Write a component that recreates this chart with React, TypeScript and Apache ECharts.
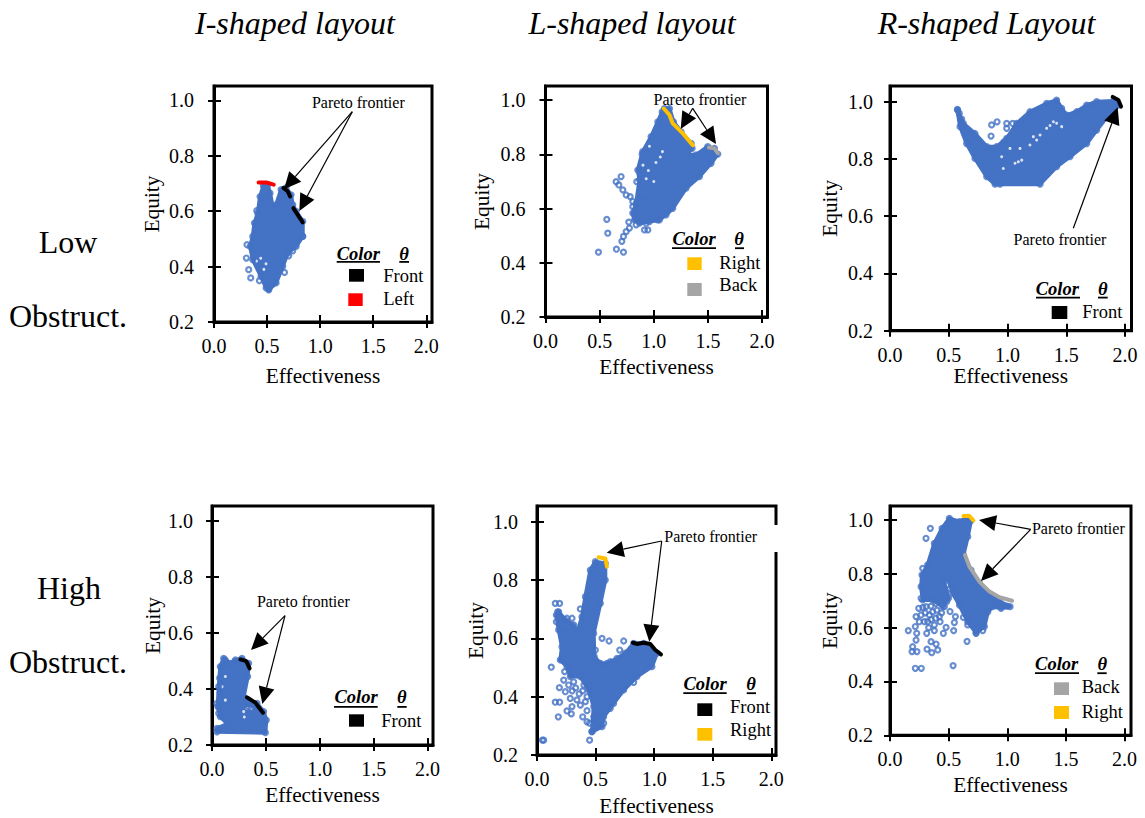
import React, { useEffect, useRef } from "react";
import * as echarts from "echarts";

const xTicks = [0, 0.5, 1, 1.5, 2];
const yTicks = [0.2, 0.4, 0.6, 0.8, 1];
const columnTitles = ["I-shaped layout", "L-shaped layout", "R-shaped Layout"];
const BLUE = "#4472C4";
const FRONT = "#000000";
const LEFT = "#FF0000";
const RIGHT = "#FFC000";
const BACK = "#A5A5A5";
const SERIF = "Liberation Serif";

type P = number[];

// ---- I-shaped, low obstruction
const lowICloud: P[] = [[.516,.316],[.585,.341],[.648,.401],[.695,.449],[.774,.473],[.836,.509],[.836,.563],[.774,.599],[.742,.623],[.726,.659],[.679,.684],[.632,.678],[.585,.623],[.553,.617],[.528,.665],[.506,.696],[.465,.692],[.434,.653],[.412,.593],[.381,.557],[.365,.509],[.340,.473],[.365,.425],[.443,.365],[.491,.323]];
const lowIPoints: P[] = [[.311,.479],[.305,.431],[.327,.389],[.346,.359],[.428,.349],[.664,.379],[.704,.439],[.742,.457],[.403,.602],[.516,.319],[.836,.509]];
const lowIHoles: P[] = [[.44,.43],[.49,.41],[.40,.42],[.47,.39]];
const lowIFrontA: P[] = [[.654,.684],[.695,.672],[.717,.653]];
const lowIFrontB: P[] = [[.748,.611],[.789,.587],[.836,.560]];
const lowILeft: P[] = [[.42,.704],[.491,.704],[.563,.696]];

// ---- L-shaped, low obstruction
const lowLCloud: P[] = [[1.098,.969],[1.145,.969],[1.182,.920],[1.252,.883],[1.345,.840],[1.354,.822],[1.298,.798],[1.391,.798],[1.498,.828],[1.560,.822],[1.591,.801],[1.529,.767],[1.422,.718],[1.298,.675],[1.175,.601],[1.114,.577],[1.052,.558],[.96,.552],[.868,.546],[.822,.558],[.806,.583],[.837,.620],[.868,.706],[.852,.742],[.898,.810],[.975,.865],[1.037,.920],[1.077,.957]];
const lowLPoints: P[] = [[.489,.439],[.655,.450],[.72,.439],[.566,.560],[.575,.509],[.652,.699],[.698,.718],[.677,.687],[.714,.669],[.745,.650],[.782,.644],[.806,.626],[.806,.607],[.705,.479],[.72,.497],[.745,.515],[.769,.550],[.775,.528],[.837,.540],[.843,.699],[.892,.801],[.923,.634],[.914,.521],[.945,.521],[.929,.546],[1.037,.558],[.852,.571]];
const lowLHoles: P[] = [[1.06,.79],[1.08,.81],[1.02,.77],[.95,.74],[.93,.71],[1.0,.70],[.96,.83],[.90,.76]];
const lowLRight: P[] = [[1.092,.969],[1.145,.945],[1.175,.914],[1.268,.877],[1.36,.834]];
const lowLBack: P[] = [[1.508,.825],[1.56,.822],[1.591,.804]];

// ---- R-shaped, low obstruction
const lowRCloud: P[] = [[.573,.973],[.624,.924],[.723,.889],[.823,.843],[.908,.843],[.993,.872],[1.078,.924],[1.191,.965],[1.333,.994],[1.418,1.006],[1.461,.977],[1.504,.953],[1.589,.965],[1.674,.988],[1.759,1.0],[1.901,1.003],[1.943,.988],[1.858,.953],[1.759,.901],[1.674,.854],[1.532,.808],[1.418,.773],[1.277,.712],[.936,.712],[.894,.712],[.823,.738],[.723,.802],[.652,.854],[.596,.913]];
const lowRPoints: P[] = [[.576,.971],[.59,.959],[.61,.939],[.865,.919],[.911,.93],[.86,.88],[.97,.86],[.993,.924],[.993,.907],[1.044,.924],[1.532,.942],[1.603,.963]];
const lowRHoles: P[] = [[1.39,.93],[1.418,.925],[1.362,.917],[1.248,.866],[1.22,.878],[1.277,.884],[1.092,.79],[1.064,.785],[1.121,.796],[.95,.808],[1.021,.837],[1.106,.837],[1.333,.907],[1.461,.913],[.964,.767],[1.191,.849]];
const lowRFront: P[] = [[1.895,1.017],[1.943,1.006],[1.966,.983]];

// ---- I-shaped, high obstruction
const highICloud: P[] = [[.046,.247],[.495,.244],[.504,.289],[.479,.319],[.417,.348],[.34,.360],[.294,.372],[.331,.444],[.34,.491],[.278,.509],[.216,.503],[.17,.491],[.108,.509],[.077,.479],[.062,.408],[.053,.337],[.077,.301],[.145,.275],[.046,.259]];
const highIPoints: P[] = [[.046,.348],[.071,.438],[.124,.503],[.077,.384],[.062,.313],[.34,.336]];
const highIHoles: P[] = [[.294,.319],[.325,.33],[.124,.444],[.093,.408],[.124,.36],[.30,.30],[.36,.33]];
const highIFrontA: P[] = [[.263,.505],[.318,.499],[.349,.473]];
const highIFrontB: P[] = [[.325,.370],[.402,.351],[.473,.315]];

// ---- L-shaped, high obstruction
const highLCloud: P[] = [[.498,.863],[.583,.857],[.583,.8],[.541,.72],[.484,.617],[.489,.537],[.541,.514],[.597,.514],[.683,.531],[.754,.549],[.825,.583],[.91,.583],[1.024,.549],[.981,.503],[.853,.469],[.74,.423],[.654,.377],[.569,.331],[.555,.297],[.469,.28],[.484,.366],[.441,.423],[.37,.469],[.284,.469],[.256,.503],[.199,.526],[.213,.571],[.185,.629],[.165,.68],[.185,.691],[.242,.663],[.313,.646],[.341,.617],[.384,.674],[.413,.743],[.455,.834]];
const highLPoints: P[] = [[.057,.251],[.046,.251],[.122,.501],[.156,.72],[.193,.72],[.176,.691],[.165,.657],[.299,.669],[.37,.701],[.191,.431],[.156,.381],[.193,.381],[.182,.331],[.256,.351],[.293,.341],[.284,.394],[.299,.366],[.341,.389],[.37,.371],[.413,.383],[.427,.352],[.39,.331],[.427,.314],[.449,.309],[.449,.251],[.469,.28],[.569,.309],[.555,.6],[.615,.591],[.74,.591],[.706,.56],[.498,.56],[.526,.514],[.242,.417],[.313,.451],[.427,.4],[.213,.669],[.256,.669],[.228,.623],[.284,.606],[.213,.526],[.236,.486],[.512,.343],[.228,.457],[.484,.331],[.626,.36],[.825,.449],[.74,.429],[.626,.52],[.27,.44],[.30,.42],[.33,.43],[.36,.41],[.39,.42],[.40,.44]];
const highLFront: P[] = [[.819,.585],[.853,.581],[.91,.585],[.967,.581],[1.01,.56],[1.058,.545]];
const highLRight: P[] = [[.526,.878],[.583,.874],[.597,.846]];

// ---- R-shaped, high obstruction
const highRCloud: P[] = [[.506,1.006],[.592,.994],[.663,1.01],[.691,.998],[.663,.938],[.626,.87],[.691,.814],[.762,.765],[.848,.725],[.933,.697],[1.024,.678],[.947,.672],[.876,.678],[.834,.659],[.805,.604],[.734,.581],[.663,.622],[.592,.684],[.535,.728],[.492,.783],[.47,.80],[.46,.77],[.50,.71],[.45,.678],[.364,.703],[.279,.703],[.265,.752],[.273,.796],[.321,.833],[.378,.913],[.444,.969]];
const highRPoints: P[] = [[.156,.589],[.228,.579],[.188,.511],[.23,.511],[.216,.449],[.267,.449],[.193,.529],[.222,.554],[.316,.52],[.356,.507],[.393,.539],[.407,.517],[.35,.548],[.313,.579],[.378,.61],[.378,.589],[.427,.622],[.455,.579],[.478,.601],[.558,.641],[.549,.619],[.543,.589],[.538,.459],[.657,.549],[.626,.638],[.663,.61],[.734,.579],[.791,.589],[.344,.969],[.307,.932],[.279,.82],[.265,.709],[.245,.672],[.222,.641],[.265,.647],[.307,.678],[.336,.647],[.293,.622],[.364,.659],[.421,.641],[.464,.678],[.512,.66],[.393,.69],[.484,.697],[.216,.604],[.25,.622],[.321,.622],[1.0,.68],[.962,.684],[.28,.675],[.30,.655],[.35,.68],[.40,.665],[.44,.655],[.39,.635],[.35,.63],[.33,.60],[.47,.72],[.51,.745]];
const highRBack: P[] = [[.64,.87],[.677,.827],[.762,.771],[.848,.734],[.933,.713],[1.041,.7]];
const highRRight: P[] = [[.626,1.015],[.677,1.015],[.711,.998]];

const panels = [
  { grid: { left: 214, top: 86, width: 218, height: 236 }, xMax: 2.054, yMax: 1.052, cloud: lowICloud, points: lowIPoints, holes: lowIHoles,
    fronts: [{ d: lowIFrontA, c: FRONT }, { d: lowIFrontB, c: FRONT }, { d: lowILeft, c: LEFT }], labelGap: 20, xGap: 43, yGap: 52,
    note: [358.3, 102.3], arrowFrom: [352.3, 111.7], tips: [[284, 189.3], [299.3, 211]],
    head: { color: [358.3, 254, 336.7, 380, 261], theta: [404, 399.3, 409] },
    keys: [{ label: "Front", c: FRONT, sq: [349, 269, 364, 281.7], tx: 383.3, ty: 276 }, { label: "Left", c: LEFT, sq: [348.3, 293.3, 362.7, 306], tx: 383.3, ty: 299.3 }] },
  { grid: { left: 545.5, top: 86, width: 222, height: 231 }, xMax: 2.05, yMax: 1.052, cloud: lowLCloud, points: lowLPoints, holes: lowLHoles,
    fronts: [{ d: lowLRight, c: RIGHT }, { d: lowLBack, c: BACK }], labelGap: 20, xGap: 39, yGap: 53,
    note: [700, 99], arrowFrom: [692.7, 108.3], tips: [[680.7, 129], [716, 144]],
    head: { color: [694, 239, 672, 716, 247.3], theta: [739, 735, 744] },
    keys: [{ label: "Right", c: RIGHT, sq: [687.3, 257.3, 701.7, 270], tx: 719.3, ty: 262.7 }, { label: "Back", c: BACK, sq: [687.3, 283, 701.7, 296], tx: 719.3, ty: 285 }] },
  { grid: { left: 890, top: 86, width: 241.5, height: 244.7 }, xMax: 2.055, yMax: 1.055, cloud: lowRCloud, points: lowRPoints, holes: lowRHoles,
    fronts: [{ d: lowRFront, c: FRONT }], labelGap: 17, xGap: 35, yGap: 50,
    note: [1060, 239.3], arrowFrom: [1073.3, 228.3], tips: [[1117.7, 107.3]],
    head: { color: [1057.3, 289.3, 1036, 1080, 296.7], theta: [1102.7, 1098, 1107.7] },
    keys: [{ label: "Front", c: FRONT, sq: [1051.7, 306, 1067.3, 319], tx: 1082.3, ty: 311.7 }] },
  { grid: { left: 212, top: 506, width: 221, height: 239 }, xMax: 2.05, yMax: 1.052, cloud: highICloud, points: highIPoints, holes: highIHoles,
    fronts: [{ d: highIFrontA, c: FRONT }, { d: highIFrontB, c: FRONT }], labelGap: 19, xGap: 39, yGap: 49,
    note: [303.3, 601], arrowFrom: [285, 615.7], tips: [[251, 650], [262.3, 704]],
    head: { color: [356, 697.3, 334, 377.7, 706], theta: [401.7, 397.3, 406.7] },
    keys: [{ label: "Front", c: FRONT, sq: [349, 714.3, 364, 726.7], tx: 381.3, ty: 721 }] },
  { grid: { left: 537, top: 506, width: 239, height: 249 }, xMax: 2.04, yMax: 1.054, cloud: highLCloud, points: highLPoints, holes: [] as P[],
    fronts: [{ d: highLFront, c: FRONT }, { d: highLRight, c: RIGHT }], labelGap: 19, xGap: 40, yGap: 51,
    note: [710.7, 536.7], arrowFrom: [661.7, 541], tips: [[606.7, 552.7], [649.3, 641.7]],
    head: { color: [705, 684.3, 683.3, 726.7, 692.3], theta: [751, 746.7, 756] },
    keys: [{ label: "Front", c: FRONT, sq: [697.3, 703.3, 712.3, 716], tx: 730, ty: 707.3 }, { label: "Right", c: RIGHT, sq: [697.3, 728, 712.3, 740.7], tx: 730, ty: 730 }] },
  { grid: { left: 890, top: 506, width: 241, height: 229.3 }, xMax: 2.055, yMax: 1.052, cloud: highRCloud, points: highRPoints, holes: [] as P[],
    fronts: [{ d: highRBack, c: BACK }, { d: highRRight, c: RIGHT }], labelGap: 17, xGap: 39, yGap: 50,
    note: [1078.3, 528.3], arrowFrom: [1030.7, 529.3], tips: [[979, 520], [981, 581]],
    head: { color: [1056.7, 664.3, 1035, 1079, 672.3], theta: [1102.3, 1097.3, 1106.7] },
    keys: [{ label: "Back", c: BACK, sq: [1054, 682.3, 1069, 695], tx: 1081.7, ty: 687.3 }, { label: "Right", c: RIGHT, sq: [1054, 706, 1069, 719], tx: 1081.7, ty: 711.7 }] },
];

function txt(text: string, x: number, y: number, size: number, align = "center", extra: any = {}) {
  return { type: "text", x, y, silent: true, z: 20, style: { text, fontFamily: SERIF, fontSize: size, fill: "#000", align, verticalAlign: "middle", ...extra } };
}
function bar(x0: number, y0: number, x1: number, y1: number, fill: string) {
  return { type: "rect", z: 20, silent: true, shape: { x: x0, y: y0, width: x1 - x0, height: y1 - y0 }, style: { fill } };
}
function arrow(from: number[], tip: number[]) {
  const dx = tip[0] - from[0], dy = tip[1] - from[1];
  const len = Math.hypot(dx, dy), ux = dx / len, uy = dy / len;
  const L = 17, W = 8;
  const bx = tip[0] - ux * L, by = tip[1] - uy * L;
  return [
    { type: "line", z: 19, silent: true, shape: { x1: from[0], y1: from[1], x2: bx, y2: by }, style: { stroke: "#000", lineWidth: 1.2 } },
    { type: "polygon", z: 19, silent: true, shape: { points: [tip, [bx - uy * W, by + ux * W], [bx + uy * W, by - ux * W]] }, style: { fill: "#000" } },
  ];
}

const tickFont = { fontFamily: SERIF, fontSize: 20, color: "#000" };
const fmt = (v: number) => v.toFixed(1);

export default function App() {
  const ref = useRef<HTMLDivElement>(null);
  useEffect(() => {
    const chart = echarts.init(ref.current!, null, { renderer: "svg" });
    const xAxis: any[] = [], yAxis: any[] = [], series: any[] = [], grid: any[] = [], graphic: any[] = [];
    panels.forEach((p, i) => {
      grid.push({ ...p.grid, show: true, borderColor: "#000", borderWidth: 3, backgroundColor: "#fff", containLabel: false });
      const baseLine = { show: true, lineStyle: { color: "#000", width: 3 } };
      const xi = xAxis.length, yi = yAxis.length;
      xAxis.push({
        type: "value", gridIndex: i, min: 0, max: p.xMax, splitLine: { show: false }, axisLine: { ...baseLine, onZero: false },
        axisTick: { show: true, length: 6, customValues: xTicks, lineStyle: { color: "#000", width: 2 } },
        axisLabel: { ...tickFont, margin: 14, customValues: xTicks, formatter: fmt, showMaxLabel: true, showMinLabel: true },
        name: "Effectiveness", nameLocation: "middle", nameGap: p.xGap, nameTextStyle: { fontFamily: SERIF, fontSize: 21.3, color: "#000" },
      });
      yAxis.push({
        type: "value", gridIndex: i, min: 0.2, max: p.yMax, splitLine: { show: false }, axisLine: { ...baseLine, onZero: false },
        axisTick: { show: true, length: 6, customValues: yTicks, lineStyle: { color: "#000", width: 2 } },
        axisLabel: { ...tickFont, margin: p.labelGap, customValues: yTicks, formatter: fmt },
        name: "Equity", nameLocation: "middle", nameGap: p.yGap, nameTextStyle: { fontFamily: SERIF, fontSize: 21.3, color: "#000" },
      });
      // same scales again, for the inner half of the crossing tick marks
      xAxis.push({ type: "value", gridIndex: i, min: 0, max: p.xMax, position: "bottom", splitLine: { show: false }, axisLine: { show: false, onZero: false },
        axisTick: { show: true, inside: true, length: 7, customValues: xTicks, lineStyle: { color: "#000", width: 2 } }, axisLabel: { show: false } });
      yAxis.push({ type: "value", gridIndex: i, min: 0.2, max: p.yMax, position: "left", splitLine: { show: false }, axisLine: { show: false, onZero: false },
        axisTick: { show: true, inside: true, length: 7, customValues: yTicks, lineStyle: { color: "#000", width: 2 } }, axisLabel: { show: false } });

      const cloud = p.cloud;
      series.push({
        type: "custom", xAxisIndex: xi, yAxisIndex: yi, z: 2, silent: true, clip: false, data: cloud,
        encode: { x: 0, y: 1 },
        renderItem: (params: any, api: any) => {
          if (params.dataIndex !== 0) return null;
          return { type: "polygon", shape: { points: cloud.map((c) => api.coord(c)) },
            style: { fill: BLUE, stroke: BLUE, lineWidth: 4, lineJoin: "round" } };
        },
      });
      if (p.holes.length) series.push({ type: "scatter", xAxisIndex: xi, yAxisIndex: yi, z: 3, silent: true, data: p.holes, symbolSize: 3, itemStyle: { color: "#fff" } });
      series.push({
        type: "scatter", xAxisIndex: xi, yAxisIndex: yi, z: 4, silent: true, clip: false, data: [...cloud, ...p.points], symbol: "circle", symbolSize: 5,
        itemStyle: { color: "rgba(255,255,255,0)", borderColor: BLUE, borderWidth: 2.2 },
      });
      p.fronts.forEach((f) => series.push({
        type: "line", xAxisIndex: xi, yAxisIndex: yi, z: 5, silent: true, clip: false, data: f.d, showSymbol: false, smooth: false,
        lineStyle: { color: f.c, width: 4, cap: "round", join: "round" },
      }));

      graphic.push(txt("Pareto frontier", p.note[0], p.note[1], 16));
      p.tips.forEach((t) => graphic.push(...arrow(p.arrowFrom, t)));
      const h = p.head;
      graphic.push(txt("Color", h.color[0], h.color[1], 18.5, "center", { fontWeight: "bold", fontStyle: "italic" }));
      graphic.push(bar(h.color[2], h.color[4], h.color[3], h.color[4] + 1.8, "#000"));
      graphic.push(txt("θ", h.theta[0], h.color[1], 18.5, "center", { fontWeight: "bold", fontStyle: "italic" }));
      graphic.push(bar(h.theta[1], h.color[4], h.theta[2], h.color[4] + 1.8, "#000"));
      p.keys.forEach((k) => {
        graphic.push(bar(k.sq[0], k.sq[1], k.sq[2], k.sq[3], k.c));
        graphic.push(txt(k.label, k.tx, k.ty, 18.5, "left"));
      });
    });
    // small white cut in the frame of the lower middle panel, left by the annotation's box
    graphic.push(bar(774, 525, 779, 552, "#fff"));
    graphic.push(txt(columnTitles[0], 295, 23, 32, "center", { fontStyle: "italic" }));
    graphic.push(txt(columnTitles[1], 632, 23, 32, "center", { fontStyle: "italic" }));
    graphic.push(txt(columnTitles[2], 986.5, 23, 32, "center", { fontStyle: "italic" }));
    graphic.push(txt("Low", 68, 242, 32));
    graphic.push(txt("Obstruct.", 68, 316, 32));
    graphic.push(txt("High", 69, 588, 32));
    graphic.push(txt("Obstruct.", 68, 662, 32));

    chart.setOption({ animation: false, backgroundColor: "#fff", grid, xAxis, yAxis, series, graphic });
    return () => chart.dispose();
  }, []);
  return <div ref={ref} style={{ position: "absolute", left: 0, top: 0, width: 1145, height: 818 }} />;
}
